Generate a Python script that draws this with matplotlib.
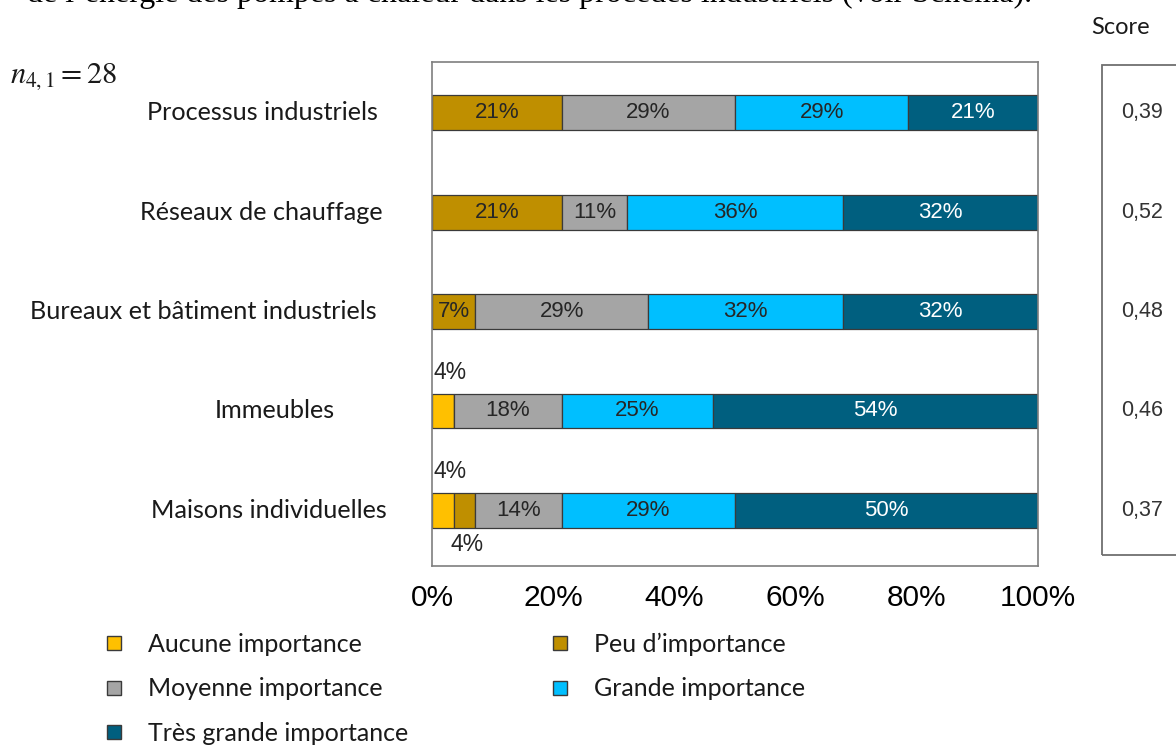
import matplotlib.pyplot as plt
import matplotlib.transforms as mtransforms
from matplotlib.lines import Line2D
from matplotlib.patches import Rectangle

# Données : nombre de réponses par niveau d'importance (n = 28)
n_total = 28
categories = [
    "Processus industriels",
    "Réseaux de chauffage",
    "Bureaux et bâtiment industriels",
    "Immeubles",
    "Maisons individuelles",
]
niveaux = [
    "Aucune importance",
    "Peu d’importance",
    "Moyenne importance",
    "Grande importance",
    "Très grande importance",
]
aucune = [0, 0, 0, 1, 1]
peu = [6, 6, 2, 0, 1]
moyenne = [8, 3, 8, 5, 4]
grande = [8, 10, 9, 7, 8]
tres_grande = [6, 9, 9, 15, 14]
scores = ["0,39", "0,52", "0,48", "0,46", "0,37"]
ticks = [0, 20, 40, 60, 80, 100]

couleurs = ["#FFC000", "#BF8F00", "#A5A5A5", "#00BFFF", "#005F7F"]
couleurs_texte = ["#262626", "#262626", "#262626", "#262626", "white"]
# bord droit (px) de chaque libellé de catégorie
x_libelles = [378, 383, 377, 335, 387]

plt.rcParams["mathtext.fontset"] = "stix"

fig = plt.figure(figsize=(11.76, 7.45), dpi=100)
ax = fig.add_axes([432 / 1176, 1 - 566 / 745, 606 / 1176, 504 / 745])

series = [aucune, peu, moyenne, grande, tres_grande]
y_pos = list(range(len(categories)))
gauche = [0.0] * len(categories)
for k, valeurs in enumerate(series):
    pct = [100 * v / n_total for v in valeurs]
    ax.barh(y_pos, pct, left=gauche, height=0.35, color=couleurs[k],
            edgecolor="#3a3a3a", linewidth=0.9, zorder=2)
    for i, (p, g) in enumerate(zip(pct, gauche)):
        if p == 0:
            continue
        txt = f"{round(p)}%"
        if p < 5:
            # petites valeurs écrites hors de la barre
            if k == 0:
                ax.text(g + 0.2, i - 0.27, txt, ha="left", va="bottom", fontsize=16.5,
                        family="Liberation Sans", color="#262626")
            else:
                ax.text(g + p / 2 + 0.5, i + 0.23, txt, ha="center", va="top",
                        fontsize=16.5, family="Liberation Sans", color="#262626")
        else:
            ax.text(g + p / 2, i, txt, ha="center", va="center", fontsize=16,
                    family="Liberation Sans", color=couleurs_texte[k])
    gauche = [g + p for g, p in zip(gauche, pct)]

ax.set_xlim(0, 100)
ax.set_ylim(len(categories) - 1 + 0.56, -0.51)
ax.set_xticks(ticks)
ax.set_xticklabels([f"{t}%" for t in ticks], fontsize=21.5, family="Liberation Sans")
ax.tick_params(axis="x", length=0, pad=13)
ax.set_yticks([])
for sp in ax.spines.values():
    sp.set_edgecolor("#7f7f7f")
    sp.set_linewidth(1.2)

# Libellés des catégories
trans = mtransforms.blended_transform_factory(fig.transFigure, ax.transData)
for i, cat in enumerate(categories):
    ax.text(x_libelles[i] / 1176, i, cat, transform=trans, ha="right", va="center",
            fontsize=18.2, family="Lato", color="#1a1a1a")

# Colonne des scores
fig.patches.append(Rectangle((1102 / 1176, 1 - 555 / 745), 0.2, 490 / 745,
                             transform=fig.transFigure, facecolor="none",
                             edgecolor="#6f6f6f", linewidth=1.3))
for i, s in enumerate(scores):
    ax.text(1142 / 1176, i, s, transform=trans, ha="center", va="center",
            fontsize=15.5, family="Liberation Sans", color="#333333")
fig.text(1121 / 1176, 1 - 27 / 745, "Score", ha="center", va="center",
         fontsize=17, family="Lato", color="#1a1a1a")

fig.text(10 / 1176, 1 - 77 / 745, r"$n_{4,1} = 28$", ha="left", va="center",
         fontsize=22, color="#1a1a1a")

# Ligne de texte du document, coupée en haut
fig.text(1032 / 1176, 1 - 2 / 745,
         "de l’énergie des pompes à chaleur dans les procédés industriels (voir Schéma).",
         ha="right", va="baseline", fontsize=23, family="Liberation Serif", color="black")

# Légende en deux colonnes, remplie ligne par ligne
handles = [Line2D([], [], marker="s", linestyle="none", markersize=10,
                  markerfacecolor=c, markeredgecolor="#3a3a3a", markeredgewidth=1.0)
           for c in couleurs]
ordre = [0, 2, 4, 1, 3]
fig.legend([handles[j] for j in ordre], [niveaux[j] for j in ordre], ncol=2,
           loc="upper left", bbox_to_anchor=(79 / 1176, 1 - 610 / 745),
           frameon=False, prop={"family": "Lato", "size": 18},
           handlelength=1.0, handletextpad=0.85, columnspacing=5.58,
           labelspacing=0.86, labelcolor="#1a1a1a")

fig.savefig("out.png", dpi=100)
